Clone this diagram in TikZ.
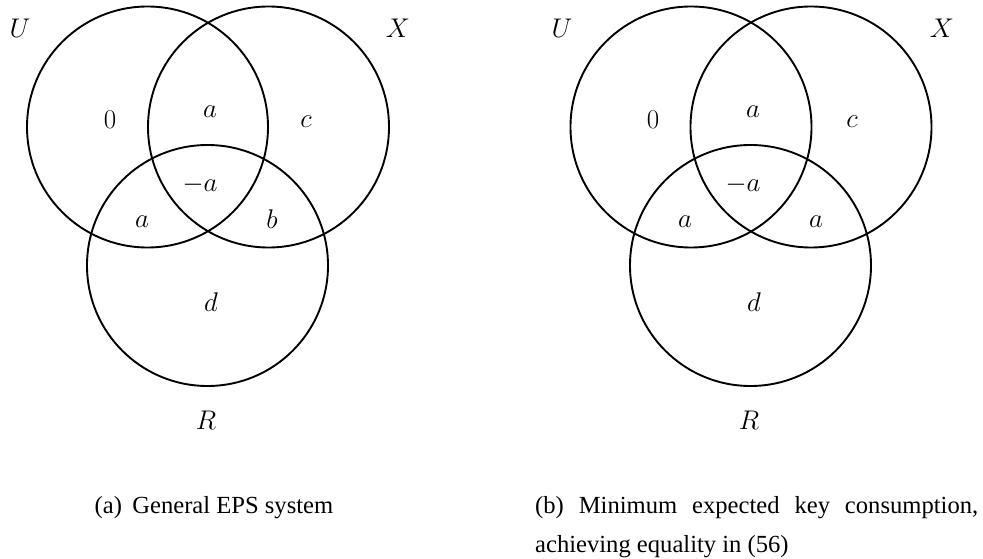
\RequirePackage{fix-cm}
\documentclass[tikz,border=0pt]{standalone}
\usepackage{fontspec}
\setmainfont{Liberation Serif}
\tikzset{
  venn/.style={draw=black, line width=1.9pt},
  lbl/.style={inner sep=0pt, font=\fontsize{27}{30}\selectfont},
  captxt/.style={inner sep=0pt, font=\fontsize{24.6}{28}\selectfont}
}
\begin{document}
\begin{tikzpicture}[x=1pt,y=-1pt]
\useasboundingbox (0,0) rectangle (983,559);
% left diagram
\coordinate (uL) at (147.5,127);
\coordinate (xL) at (268.5,127);
\coordinate (rL) at (207.5,265.5);
\draw[venn] (uL) circle[radius=120.5pt];
\draw[venn] (xL) circle[radius=120.5pt];
\draw[venn] (rL) circle[radius=120.5pt];
\node[lbl] (UL) at (20,28) {$U$};
\node[lbl] (XL) at (398,28) {$X$};
\node[lbl] (zL) at (110,120) {$0$};
\node[lbl] (aL1) at (210,112) {$a$};
\node[lbl] (cL) at (306,122) {$c$};
\node[lbl] (maL) at (200,185) {$-a$};
\node[lbl] (aL2) at (142,222) {$a$};
\node[lbl] (bL) at (272,219) {$b$};
\node[lbl] (dL) at (211,302) {$d$};
\node[lbl] (RL) at (206,420) {$R$};
% right diagram
\coordinate (uR) at (691,127);
\coordinate (xR) at (811,127);
\coordinate (rR) at (750.5,265.5);
\draw[venn] (uR) circle[radius=120.5pt];
\draw[venn] (xR) circle[radius=120.5pt];
\draw[venn] (rR) circle[radius=120.5pt];
\node[lbl] (UR) at (562,28) {$U$};
\node[lbl] (XR) at (942,28) {$X$};
\node[lbl] (zR) at (653,120) {$0$};
\node[lbl] (aR1) at (753,112) {$a$};
\node[lbl] (cR) at (852,122) {$c$};
\node[lbl] (maR) at (743,185) {$-a$};
\node[lbl] (aR2) at (685,222) {$a$};
\node[lbl] (aR3) at (816,222) {$a$};
\node[lbl] (dR) at (754,302) {$d$};
\node[lbl] (RR) at (749,420) {$R$};
% captions
\node[captxt, anchor=base] (capA) at (214,513) {(a)\hspace{0.42em}General EPS system};
\node[captxt, anchor=base west] (capB1) at (535,513) {\makebox[443pt][s]{(b) Minimum expected key consumption,}};
\node[captxt, anchor=base west] (capB2) at (535,552) {achieving equality in (56)};
\end{tikzpicture}
\end{document}
